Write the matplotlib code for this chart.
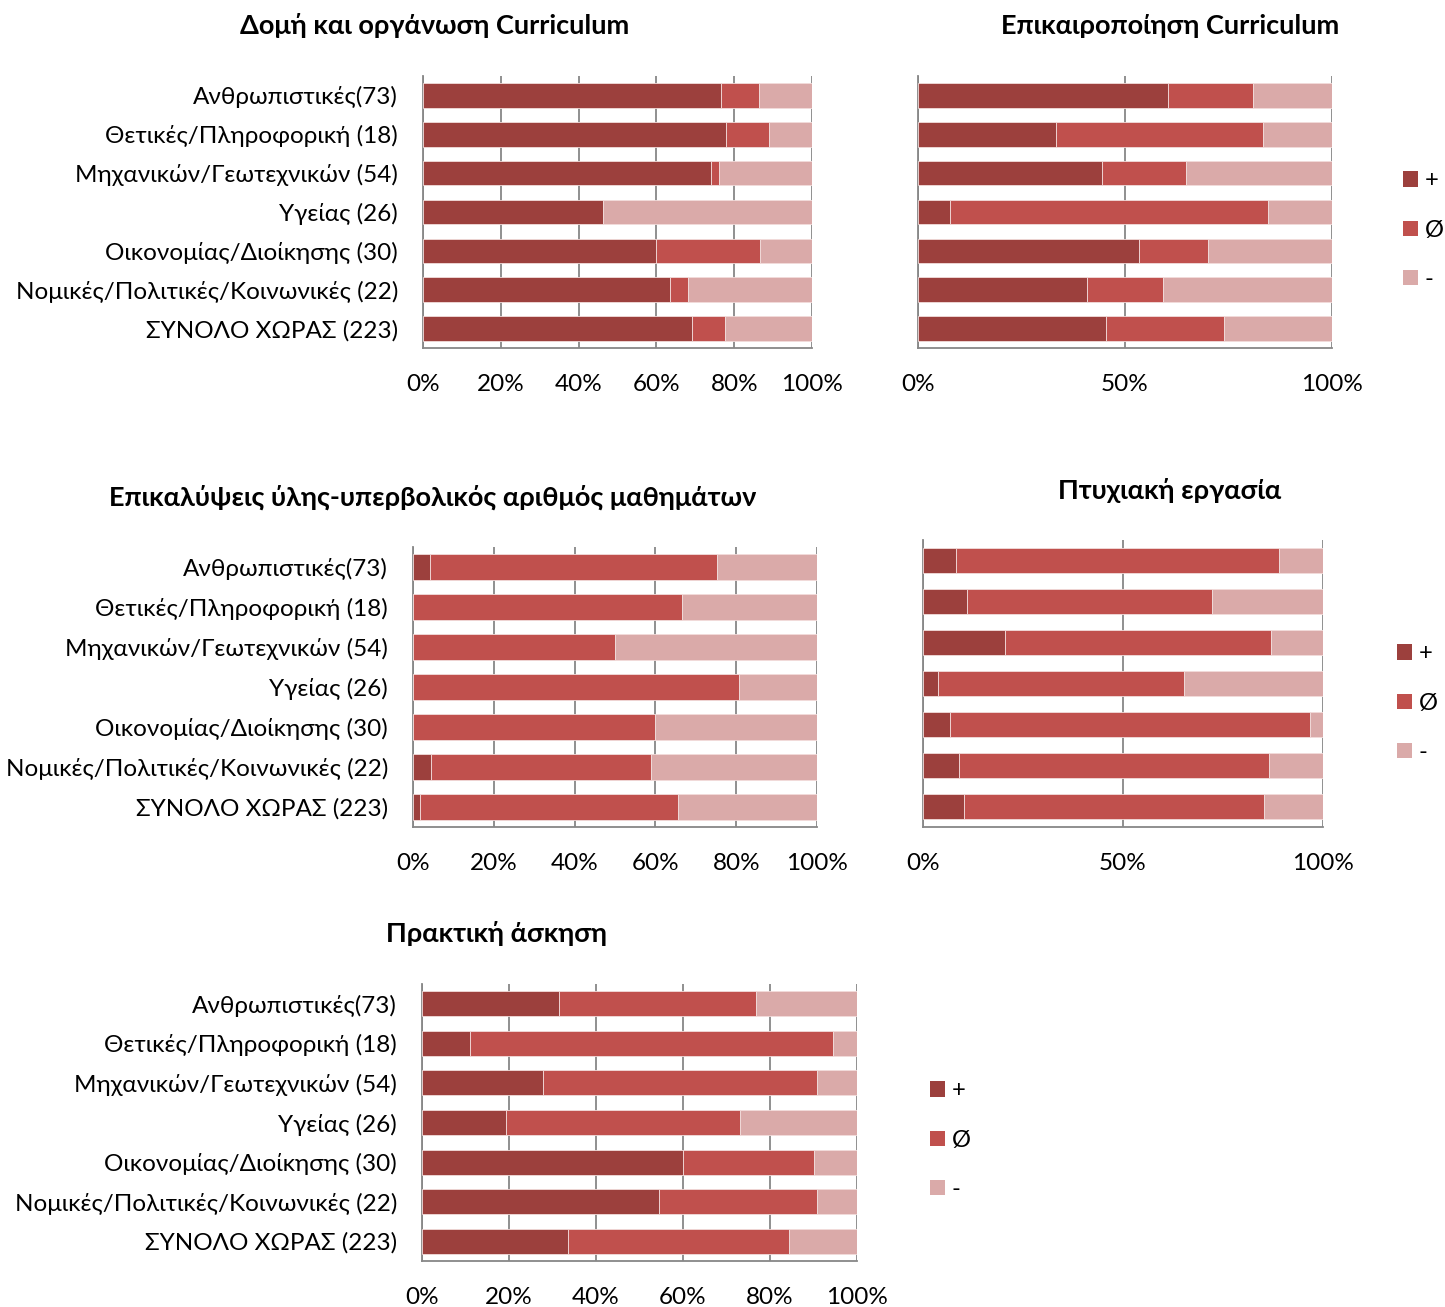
import numpy as np
import matplotlib
matplotlib.use('Agg')
import matplotlib.pyplot as plt
from matplotlib.patches import Patch

plt.rcParams['font.family'] = ['Lato', 'DejaVu Sans']

W, H = 1445, 1307

categories = ['Ανθρωπιστικές(73)', 'Θετικές/Πληροφορική (18)', 'Μηχανικών/Γεωτεχνικών (54)',
              'Υγείας (26)', 'Οικονομίας/Διοίκησης (30)', 'Νομικές/Πολιτικές/Κοινωνικές (22)',
              'ΣΥΝΟΛΟ ΧΩΡΑΣ (223)']
series_names = ['+', 'Ø', '-']
colors = ['#9C403D', '#C0504D', '#DAAAA9']

# percentages per panel: + / Ø / -
structure_plus = [76.7, 77.8, 74.1, 46.2, 60.0, 63.6, 69.1]
structure_zero = [9.6, 11.1, 1.9, 0.0, 26.7, 4.5, 8.5]
structure_minus = [13.7, 11.1, 24.0, 53.8, 13.3, 31.9, 22.4]

update_plus = [60.3, 33.3, 44.4, 7.7, 53.3, 40.9, 45.3]
update_zero = [20.5, 50.0, 20.4, 76.9, 16.7, 18.2, 28.7]
update_minus = [19.2, 16.7, 35.2, 15.4, 30.0, 40.9, 26.0]

overlap_plus = [4.1, 0.0, 0.0, 0.0, 0.0, 4.5, 1.8]
overlap_zero = [71.2, 66.7, 50.0, 80.8, 60.0, 54.5, 63.7]
overlap_minus = [24.7, 33.3, 50.0, 19.2, 40.0, 40.9, 34.5]

thesis_plus = [8.2, 11.1, 20.4, 3.8, 6.7, 9.1, 10.3]
thesis_zero = [80.8, 61.1, 66.7, 61.5, 90.0, 77.3, 74.9]
thesis_minus = [11.0, 27.8, 13.0, 34.6, 3.3, 13.6, 14.8]

practice_plus = [31.5, 11.1, 27.8, 19.2, 60.0, 54.5, 33.6]
practice_zero = [45.2, 83.3, 63.0, 53.8, 30.0, 36.4, 50.7]
practice_minus = [23.3, 5.6, 9.3, 26.9, 10.0, 9.1, 15.7]

ticks5 = [0, 20, 40, 60, 80, 100]
ticks2 = [0, 50, 100]

fig = plt.figure(figsize=(W / 100, H / 100), dpi=100)


def px_axes(x0, y0, x1, y1):
    return fig.add_axes([x0 / W, 1 - y1 / H, (x1 - x0) / W, (y1 - y0) / H])


def panel(ax, plus, zero, minus, xticks, show_labels):
    y = np.arange(len(categories))
    left = np.zeros(len(categories))
    for vals, c in zip([plus, zero, minus], colors):
        ax.barh(y, vals, left=left, height=0.63, color=c, edgecolor='#F2DCDB', linewidth=0.6, zorder=3)
        left = left + np.array(vals)
    ax.set_xlim(0, 100)
    ax.set_ylim(len(categories) - 0.5, -0.5)
    ax.set_xticks(xticks)
    ax.set_xticklabels(['%d%%' % t for t in xticks], fontsize=17.5)
    ax.set_yticks(y)
    if show_labels:
        ax.set_yticklabels(categories, fontsize=17.5)
    else:
        ax.set_yticklabels([])
    ax.grid(axis='x', color='#878787', linewidth=1.3, zorder=0)
    for s in ['top', 'right']:
        ax.spines[s].set_visible(False)
    for s in ['left', 'bottom']:
        ax.spines[s].set_color('#878787')
        ax.spines[s].set_linewidth(1.3)
    ax.tick_params(axis='x', length=0, pad=19, colors='#878787', labelcolor='black')
    ax.tick_params(axis='y', length=0, pad=18)


def legend_at(x, y):
    handles = [Patch(facecolor=c, edgecolor='none') for c in colors]
    fig.legend(handles, series_names, loc='center left', bbox_to_anchor=(x / W, 1 - y / H),
               frameon=False, fontsize=17, handlelength=0.62, handleheight=0.62,
               handletextpad=0.3, labelspacing=1.2, borderpad=0, borderaxespad=0)


ax1 = px_axes(423, 76, 812, 348)
panel(ax1, structure_plus, structure_zero, structure_minus, ticks5, True)
ax2 = px_axes(918, 76, 1332, 348)
panel(ax2, update_plus, update_zero, update_minus, ticks2, False)
ax3 = px_axes(413, 547, 817, 827)
panel(ax3, overlap_plus, overlap_zero, overlap_minus, ticks5, True)
ax4 = px_axes(923, 540, 1323, 827)
panel(ax4, thesis_plus, thesis_zero, thesis_minus, ticks2, False)
ax5 = px_axes(422, 984, 857, 1261)
panel(ax5, practice_plus, practice_zero, practice_minus, ticks5, True)

legend_at(1403, 230)
legend_at(1397, 703)
legend_at(930, 1140)

titles = [('Δομή και οργάνωση Curriculum', 435, 26),
          ('Επικαιροποίηση Curriculum', 1170, 26),
          ('Επικαλύψεις ύλης-υπερβολικός αριθμός μαθημάτων', 433, 497),
          ('Πτυχιακή εργασία', 1170, 491),
          ('Πρακτική άσκηση', 496, 934)]
for t, x, y in titles:
    fig.text(x / W, 1 - y / H, t, ha='center', va='center', fontsize=19.5, fontweight='bold')

fig.savefig('out.png', dpi=100)
